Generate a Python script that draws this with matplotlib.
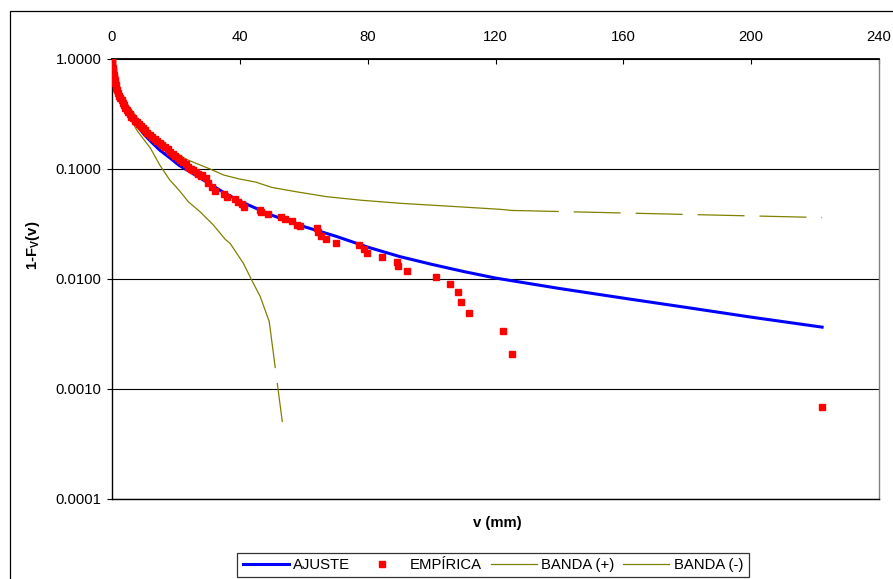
import matplotlib
matplotlib.use("Agg")
import matplotlib.pyplot as plt
from matplotlib.patches import Rectangle
from matplotlib.ticker import FixedLocator, NullLocator, FuncFormatter

plt.rcParams['font.family'] = ['Liberation Sans', 'DejaVu Sans']
plt.rcParams['mathtext.fontset'] = 'custom'
plt.rcParams['mathtext.rm'] = 'Liberation Sans'
plt.rcParams['mathtext.bf'] = 'Liberation Sans:bold'
plt.rcParams['lines.scale_dashes'] = False

# ---------------- data ----------------
ajuste_x = [0, 0.5, 1, 2, 3, 4, 6, 8, 10, 12, 15, 18, 21, 24, 27, 30, 35, 40, 45, 50,
            60, 70, 80, 90, 100, 110, 120, 140, 160, 180, 200, 222.2]
ajuste_y = [1.0, 0.75, 0.6, 0.47, 0.405, 0.36, 0.29, 0.245, 0.207, 0.18, 0.148, 0.127,
            0.108, 0.096, 0.085, 0.075, 0.061, 0.051, 0.044, 0.038, 0.030, 0.0245,
            0.0195, 0.0160, 0.0136, 0.0117, 0.0102, 0.0082, 0.0067, 0.0055, 0.0045, 0.00365]

emp_x = [0.0, 0.05, 0.1, 0.15, 0.2, 0.3, 0.4, 0.55, 0.7, 0.85, 1.0, 1.2, 1.4, 1.7, 2.0,
         2.3, 2.6, 3.0, 3.4, 3.8, 4.2, 4.6, 5.1, 5.6, 6.1, 6.6, 7.2, 7.8, 8.4, 9.0, 9.7,
         10.4, 11.1, 11.8, 12.6, 13.4, 14.2, 15.0, 15.8, 16.6, 17.4, 18.2, 19.0, 19.8,
         20.6, 21.4, 22.2, 23.0, 23.8, 24.6, 25.4, 26.2, 27.0, 27.7,
         28.1, 29.4, 30.1, 31.2, 32.2, 35.0, 35.9, 38.5, 39.5, 40.6, 41.3, 46.3, 46.6,
         48.9, 52.9, 54.1, 56.2, 57.8, 58.8, 64.0, 64.6, 65.3, 67.0, 70.0, 77.4, 78.7,
         79.7, 84.4, 89.1, 89.6, 92.2, 101.4, 105.8, 108.4, 109.2, 111.6, 122.4, 125.1,
         222.2]
emp_y = [1.0, 0.95, 0.9, 0.86, 0.83, 0.79, 0.76, 0.71, 0.67, 0.64, 0.61, 0.58, 0.55,
         0.52, 0.49, 0.465, 0.445, 0.42, 0.40, 0.38, 0.36, 0.345, 0.33, 0.315, 0.30,
         0.288, 0.275, 0.265, 0.254, 0.244, 0.234, 0.224, 0.214, 0.205, 0.196, 0.188,
         0.180, 0.172, 0.165, 0.158, 0.151, 0.144, 0.138, 0.132, 0.126, 0.120, 0.115,
         0.110, 0.105, 0.100, 0.097, 0.094, 0.090, 0.087,
         0.0882, 0.0823, 0.0741, 0.0683, 0.0636, 0.0591, 0.0552, 0.0533, 0.0505, 0.048,
         0.0449, 0.0424, 0.0404, 0.0389, 0.0363, 0.0348, 0.0338, 0.0309, 0.0301, 0.0289,
         0.027, 0.0247, 0.0231, 0.0213, 0.0205, 0.0188, 0.0174, 0.0159, 0.0144, 0.0130,
         0.0118, 0.0105, 0.0090, 0.0076, 0.0062, 0.0049, 0.0034, 0.0021, 0.00069]

banda_pos_x = [0, 1, 2, 3, 5, 8, 10, 13, 17, 20, 23.4, 27.5, 30.7, 35, 40, 45, 50, 57.8,
               67.2, 78, 90.1, 105, 121.4, 125.1, 222.2]
banda_pos_y = [1.0, 0.75, 0.58, 0.49, 0.38, 0.29, 0.25, 0.205, 0.16, 0.14, 0.122, 0.109,
               0.1, 0.088, 0.081, 0.076, 0.068, 0.062, 0.056, 0.052, 0.0488, 0.046,
               0.043, 0.042, 0.0362]

banda_neg_x = [0, 2, 5, 8, 12, 15, 18, 21, 24, 27.5, 31.7, 35.4, 37, 41.1, 43.7, 46.4,
               49.2, 53.3]
banda_neg_y = [1.0, 0.46, 0.31, 0.22, 0.155, 0.108, 0.08, 0.064, 0.05, 0.041, 0.031,
               0.023, 0.021, 0.0139, 0.0098, 0.0069, 0.0041, 0.0005]

x_ticks = [0, 40, 80, 120, 160, 200, 240]
y_ticks = [0.0001, 0.001, 0.01, 0.1, 1.0]

# ---------------- figure ----------------
W, H = 893, 579
FS = 10.7
fig = plt.figure(figsize=(W / 100, H / 100), dpi=100)
ax = fig.add_axes([112 / W, 1 - 499 / H, (879 - 112) / W, (499 - 59) / H])

olive = '#808000'
dash = (0, (33.8, 10.8))

ax.plot(ajuste_x, ajuste_y, color='#0000ff', lw=2.2, label='AJUSTE', zorder=3)
ax.plot(emp_x, emp_y, ls='none', marker='s', ms=4.3, color='#ff0000', mec='#ff0000',
        label='EMPÍRICA', zorder=4)
ax.plot(banda_pos_x[:-1], banda_pos_y[:-1], color=olive, lw=0.9, label='BANDA (+)', zorder=2)
ax.plot(banda_pos_x[-2:], banda_pos_y[-2:], color=olive, lw=0.9, ls=dash, zorder=2)
ax.plot(banda_neg_x[:-1], banda_neg_y[:-1], color=olive, lw=0.9, label='BANDA (-)', zorder=2)
ax.plot(banda_neg_x[-2:], banda_neg_y[-2:], color=olive, lw=0.9, ls=dash, zorder=2)

ax.set_yscale('log')
ax.set_xlim(0, 240)
ax.set_ylim(1e-4, 1.0)

ax.yaxis.set_major_locator(FixedLocator(y_ticks))
ax.yaxis.set_minor_locator(NullLocator())
ax.yaxis.set_major_formatter(FuncFormatter(lambda v, p: f'{v:.4f}'))
ax.xaxis.set_major_locator(FixedLocator(x_ticks))
ax.xaxis.set_minor_locator(NullLocator())

ax.xaxis.tick_top()
ax.tick_params(axis='x', direction='in', length=3.6, width=0.8, pad=11, labelsize=FS)
ax.tick_params(axis='y', direction='out', length=3.6, width=0.8, pad=4, labelsize=FS)

ax.yaxis.grid(True, color='black', lw=0.8)
ax.set_axisbelow(True)

for s in ['left', 'bottom']:
    ax.spines[s].set_color('black')
    ax.spines[s].set_linewidth(1.0)
ax.spines['top'].set_color('black')
ax.spines['top'].set_linewidth(1.3)
ax.spines['right'].set_color('#808080')
ax.spines['right'].set_linewidth(1.0)

fig.text(497 / W, 1 - 523 / H, 'v (mm)', ha='center', va='center',
         fontsize=FS, fontweight='bold')
fig.text(33 / W, 1 - 245 / H, r'1-F$_\mathbf{V}$(v)', ha='center', va='center',
         rotation=90, fontsize=FS, fontweight='bold')

# outer chart frame (extends beyond the image on right and bottom)
fig.patches.append(Rectangle((10 / W, -0.1), 1.2, 1 - 11 / H + 0.1,
                             transform=fig.transFigure, fill=False,
                             edgecolor='black', lw=0.9))

leg = fig.legend(loc='upper center', bbox_to_anchor=(493 / W, 1 - 553 / H),
                 ncol=4, fontsize=FS, frameon=True, fancybox=False,
                 edgecolor='black', handlelength=3.1, handletextpad=0.3,
                 columnspacing=0.6, borderpad=0.35, borderaxespad=0)
leg.get_frame().set_linewidth(0.9)

fig.savefig('out.png', dpi=100)
